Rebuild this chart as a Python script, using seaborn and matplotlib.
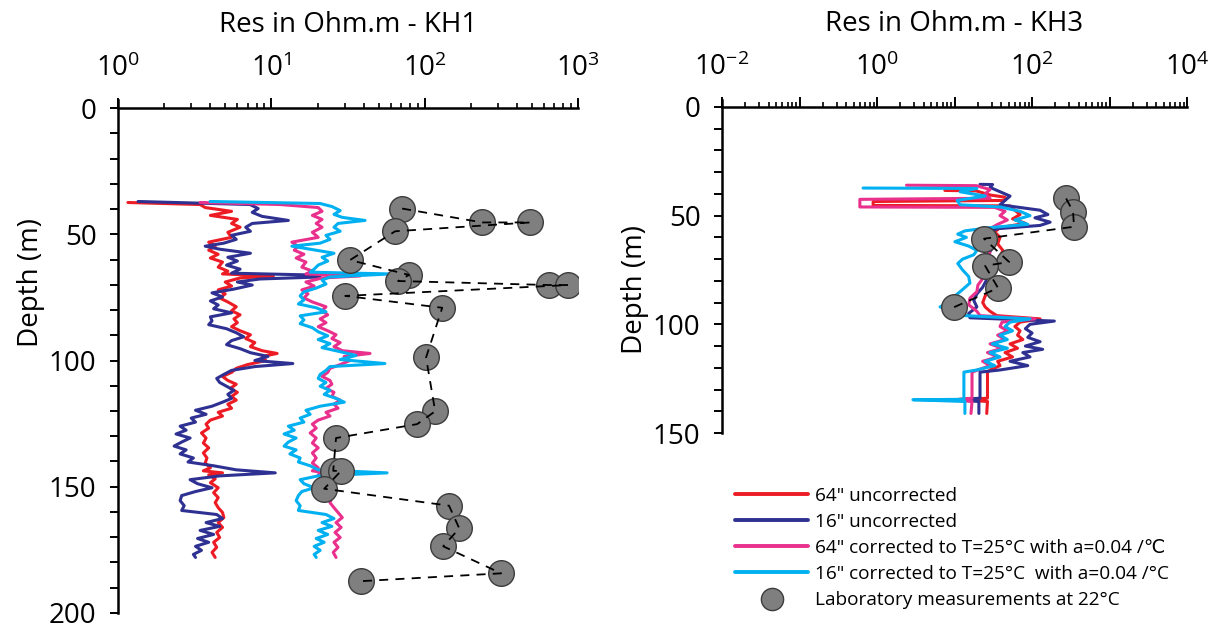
import numpy as np
import pandas as pd
import matplotlib
matplotlib.use("Agg")
import matplotlib.pyplot as plt
from matplotlib.lines import Line2D
from matplotlib.ticker import FixedLocator, FuncFormatter, LogLocator, NullFormatter, MultipleLocator
import seaborn as sns

sns.set_theme(style="ticks")
plt.rcParams['font.family'] = ['Open Sans', 'DejaVu Sans']
plt.rcParams['mathtext.fontset'] = 'custom'
plt.rcParams['mathtext.rm'] = 'Open Sans'
plt.rcParams['mathtext.it'] = 'Open Sans:italic'
plt.rcParams['mathtext.bf'] = 'Open Sans:bold'
plt.rcParams['axes.unicode_minus'] = False
plt.rcParams['text.color'] = 'black'
plt.rcParams['axes.labelcolor'] = 'black'
plt.rcParams['xtick.color'] = 'black'
plt.rcParams['ytick.color'] = 'black'

# ---------------- KH1 logs (depth m, resistivity Ohm.m) ----------------
kh1_red_depth = [37.4, 38.2, 39.4, 40.9, 42.5, 44.1, 45.7, 47.2, 49.2, 51.2, 53.1, 54.7, 56.3, 57.9, 59.4,
                 61.0, 63.0, 64.6, 65.7, 66.5, 67.3, 68.9, 70.5, 72.0, 73.6, 75.2, 76.8, 78.7, 80.3, 81.9,
                 83.5, 85.0, 86.6, 88.2, 89.8, 91.3, 92.9, 94.5, 96.1, 97.2, 98.4, 100.0, 101.6, 103.1, 104.7,
                 106.3, 107.9, 109.4, 111.0, 112.6, 114.2, 115.7, 117.3, 118.9, 120.5, 122.0, 123.6, 125.2,
                 126.8, 128.7, 130.7, 132.7, 134.6, 136.6, 138.6, 140.6, 142.5, 143.7, 144.5, 145.3, 146.9,
                 148.4, 150.4, 152.4, 154.3, 156.3, 158.3, 160.2, 162.2, 164.2, 166.1, 168.1, 170.1, 172.0,
                 174.0, 176.0, 178.0]
kh1_red_res = [1.16, 3.43, 3.7, 5.5, 4.0, 6.0, 5.5, 6.25, 5.2, 5.5, 3.9, 4.3, 3.9, 4.5, 4.0,
               4.8, 4.5, 5.2, 4.8, 10.3, 6.25, 5.0, 5.5, 4.5, 5.0, 4.6, 5.2, 5.9, 5.5, 6.25,
               5.7, 6.0, 5.5, 6.25, 7.3, 6.8, 7.8, 7.3, 8.7, 10.9, 8.7, 9.2, 7.0, 5.9, 5.5,
               4.8, 5.2, 5.9, 5.4, 6.0, 5.5, 5.9, 5.2, 5.5, 4.5, 4.8, 4.0, 3.75,
               3.9, 3.5, 3.75, 3.6, 3.9, 3.6, 3.8, 3.7, 4.0, 3.6, 4.8, 3.9, 4.3,
               4.0, 4.5, 4.2, 4.5, 4.3, 4.5, 4.8, 4.9, 4.5, 4.8, 4.4, 4.6, 4.2,
               4.4, 4.1, 4.3]

kh1_blue_depth = [37.0, 38.2, 39.8, 41.3, 42.9, 44.5, 45.7, 47.2, 48.8, 50.4, 52.0, 53.5, 54.7, 55.9, 57.5,
                  59.1, 60.6, 62.2, 63.8, 65.4, 66.1, 66.9, 67.7, 68.9, 70.1, 71.7, 73.2, 74.8, 76.4, 78.0,
                  79.5, 81.1, 82.7, 84.3, 85.8, 87.4, 89.0, 90.6, 92.1, 93.7, 95.3, 96.9, 98.4, 100.0, 101.2,
                  102.4, 103.9, 105.5, 107.1, 108.7, 110.2, 111.8, 113.4, 115.0, 116.5, 118.1, 119.7, 121.3,
                  122.8, 124.4, 126.0, 127.6, 129.1, 130.7, 132.3, 133.9, 135.4, 137.0, 138.6, 140.2, 141.7,
                  143.3, 144.5, 145.7, 147.2, 148.8, 150.4, 151.9, 153.5, 155.5, 157.5, 159.4, 161.0, 162.6,
                  164.2, 165.7, 167.3, 168.9, 170.5, 172.0, 173.6, 175.2, 176.8, 178.0]
kh1_blue_res = [1.35, 7.26, 8.2, 7.5, 8.7, 12.9, 7.5, 6.8, 7.3, 5.5, 5.9, 4.9, 3.7, 4.6, 7.3,
                5.2, 6.0, 5.1, 6.25, 5.5, 17.9, 20.8, 8.4, 6.0, 7.5, 5.7, 4.1, 4.8, 4.0, 4.5,
                4.2, 5.5, 4.0, 4.1, 3.9, 5.1, 5.9, 6.6, 5.5, 5.1, 6.25, 7.3, 9.5, 7.8, 13.8,
                7.8, 5.5, 4.9, 4.4, 4.6, 5.1, 5.7, 5.2, 5.5, 4.8, 4.1, 3.2, 3.75,
                3.0, 3.2, 2.54, 2.78, 2.39, 2.95, 2.6, 2.32, 2.78, 2.54, 3.1, 2.86, 4.2,
                5.9, 10.6, 4.6, 2.95, 3.3, 4.1, 3.2, 2.6, 2.54, 2.7, 2.6, 4.4, 4.8,
                3.75, 4.6, 3.43, 4.2, 3.3, 3.9, 3.2, 3.5, 3.1, 3.2]

kh1_pink_depth = kh1_red_depth
kh1_pink_res = [3.43, 11.4, 20.2, 21.4, 18.5, 21.4, 19.6, 21.4, 18.5, 20.2, 13.6, 14.9, 14.1, 16.3, 14.5,
                16.8, 15.8, 18.5, 16.8, 37.9, 21.4, 16.8, 19.0, 15.8, 17.3, 16.3, 18.5, 22.7, 21.4, 23.3,
                20.8, 22.7, 20.2, 23.3, 26.4, 24.8, 28.1, 25.6, 29.0, 44.0, 29.8, 32.6, 28.1, 24.1, 23.3,
                21.4, 24.1, 24.8, 22.7, 25.6, 24.8, 28.1, 25.6, 27.2, 22.7, 24.1, 20.2, 18.5,
                19.6, 17.9, 19.6, 18.5, 20.2, 18.5, 19.6, 18.5, 20.2, 18.5, 22.7, 20.2, 22.7,
                21.4, 24.1, 22.7, 24.8, 24.1, 25.6, 27.2, 29.0, 26.4, 28.5, 26.0, 28.1, 25.6,
                27.2, 25.3, 26.4]

kh1_cyan_depth = [37.0, 37.8, 39.0, 40.6, 42.1, 43.3, 44.5, 45.7, 47.2, 48.8, 50.4, 52.0, 53.5, 54.7, 55.9,
                  57.5, 59.1, 60.6, 62.2, 63.8, 65.0, 65.7, 66.9, 68.1, 69.7, 71.3, 72.8, 74.4, 76.0, 77.6,
                  79.1, 80.7, 82.3, 83.9, 85.4, 87.0, 88.6, 90.2, 91.7, 93.3, 94.9, 96.5, 98.0, 99.6, 101.2,
                  102.4, 103.9, 105.5, 107.1, 108.7, 110.2, 111.8, 113.4, 115.0, 116.5, 118.1, 119.7, 121.3,
                  122.8, 124.4, 126.0, 127.6, 129.1, 130.7, 132.3, 133.9, 135.4, 137.0, 138.6, 140.2, 141.7,
                  143.3, 144.5, 145.7, 147.2, 148.8, 150.4, 151.9, 153.5, 155.5, 157.5, 159.4, 161.0, 162.6,
                  164.2, 165.7, 167.3, 168.9, 170.5, 172.0, 173.6, 175.2, 176.8, 178.0]
kh1_cyan_res = [3.98, 20.8, 24.8, 28.1, 25.6, 29.0, 40.8, 27.2, 25.6, 28.1, 22.7, 24.1, 20.8, 13.6, 17.9,
                25.6, 21.4, 23.3, 20.2, 19.0, 17.9, 59.5, 24.1, 21.4, 22.7, 19.6, 16.3, 15.4, 16.3, 15.0,
                19.6, 22.7, 15.4, 16.3, 15.4, 18.5, 20.2, 23.3, 20.2, 24.1, 21.4, 28.1, 35.6, 28.1, 55.0,
                24.1, 22.7, 20.8, 20.2, 22.7, 20.8, 24.1, 22.1, 26.4, 29.9, 20.8, 16.8, 17.9,
                15.4, 16.3, 12.9, 14.1, 12.1, 14.5, 12.9, 12.1, 14.5, 13.2, 15.4, 15.0, 17.9,
                20.2, 56.8, 20.2, 15.4, 16.3, 19.0, 15.8, 15.0, 14.5, 15.4, 15.0, 22.7, 25.6,
                21.4, 24.8, 20.2, 23.3, 19.6, 22.1, 19.0, 20.8, 19.0, 19.6]

kh1_lab_depth = [39.8, 45.3, 45.3, 48.8, 60.2, 66.1, 68.5, 70.1, 70.1, 74.4, 79.1, 98.8, 120.1, 125.2,
                 130.7, 143.7, 143.7, 150.8, 157.5, 166.5, 173.6, 184.3, 187.4]
kh1_lab_res = [71.2, 237, 487, 64.1, 32.6, 79.1, 67.0, 648, 861, 30.3, 130, 102, 117, 89.2,
               26.4, 25.3, 28.5, 22.1, 144, 168, 132, 315, 38.5]

# ---------------- KH3 logs ----------------
kh3_red_depth = [38.4, 38.6, 40.5, 41.5, 43.0, 43.5, 45.3, 45.5, 47.5, 49.5, 51.5, 53.5, 55.5, 57.5, 60,
                 63, 66, 69, 72, 75, 78, 81, 84, 87, 90, 92, 94, 96, 97.5, 99, 101, 103, 105, 107, 109,
                 111, 113, 115, 117, 119, 121, 122, 134, 134.7, 135.5, 141]
kh3_red_res = [7.5, 19, 28.7, 44.8, 44.8, 0.89, 0.89, 52, 60, 70, 56, 82, 38.6, 33, 38.6,
               36, 42, 38.6, 33, 30.7, 32, 30.7, 28.7, 24.8, 23.1, 24.8, 28.7, 35, 127, 70, 60, 70, 65, 76, 52,
               65, 44.8, 56, 36, 38.6, 28.7, 26.6, 26.6, 11.8, 26.6, 26.0]

kh3_blue_depth = [35.6, 35.7, 37, 39, 41, 43, 45, 47.5, 49.5, 51, 53, 54.5, 56, 58, 60, 62, 65, 68, 71, 74,
                  77, 80, 83, 86, 89, 92, 95, 97, 98.5, 100, 102, 104, 106, 108, 110, 111.5, 113, 115, 117,
                  119, 121, 122, 134, 134.7, 135.5, 141]
kh3_blue_res = [21.3, 31, 28.7, 38.6, 52, 44.8, 38.6, 127, 160, 109, 171, 127, 36, 24.8, 28.7, 21.3, 30.7,
                26.6, 30.7, 28.7, 26.6, 25.5, 23, 19.4, 17.7, 19.4, 15.2, 15.8, 194, 94, 82, 100, 88, 127, 82,
                137, 76, 94, 52, 88, 38.6, 21.3, 21.3, 10, 20.6, 20.6]

kh3_pink_depth = [36, 36.2, 38, 40, 42, 42.5, 46, 46.2, 48, 50, 52, 54, 56, 58, 61, 64, 67, 70, 73, 76, 79,
                  82, 85, 88, 91, 94, 96, 97.5, 99, 101, 103, 105, 107, 109, 111, 113, 115, 117, 119, 121,
                  122, 134, 134.7, 135.5, 141]
kh3_pink_res = [2.4, 19, 28.7, 24.8, 28.7, 0.6, 0.6, 33, 44.8, 38.6, 48, 36, 28.7, 24.8, 26.6, 24, 28.7,
                24.8, 23, 24.8, 23, 20, 19.4, 15.8, 15.2, 19.4, 21.3, 109, 41, 38.6, 48, 36, 44.8, 28.7, 41,
                26.6, 36, 23, 28.7, 20, 16.8, 16.8, 10, 16.8, 16.3]

kh3_cyan_depth = [37.3, 37.5, 39, 41, 43, 45, 46, 48, 50, 52, 54, 55.5, 57, 58.5, 60, 62, 64, 66, 68, 70,
                  72, 75, 78, 81, 84, 87, 90, 92, 94, 96, 97.5, 99, 101, 103, 105, 107, 109, 111, 113, 115,
                  117, 119, 121, 122, 134.5, 134.7, 135.5, 141]
kh3_cyan_res = [0.66, 19.4, 11.8, 24.8, 10.8, 11.8, 38.6, 70, 94, 60, 88, 28.7, 13.6, 11, 14.2, 10.1, 15.2,
                19.4, 17.7, 12.7, 11, 12.7, 15.2, 15.8, 12.7, 10.1, 8.2, 6.5, 10.1, 13.6, 94, 52, 44.8, 56,
                38.6, 48, 30.7, 48, 28.7, 38.6, 24.8, 33, 19.4, 13.2, 13.2, 2.9, 13.6, 13.6]

kh3_lab_depth = [42.1, 48.1, 55.1, 60.6, 71.3, 73.1, 83.3, 92.1]
kh3_lab_res = [275, 338, 348, 24.0, 50.5, 24.8, 36.4, 9.86]

labels = ['64" uncorrected', '16" uncorrected',
          '64" corrected to T=25°C with a=0.04 /℃',
          '16" corrected to T=25°C  with a=0.04 /°C',
          'Laboratory measurements at 22°C']
colors = ['#ed1c24', '#2e3192', '#e9308d', '#00b0f0']
dot_face = '#7f7f7f'
dot_edge = '#3c3c3c'

fig = plt.figure(figsize=(12.17, 6.29), dpi=100)
ax1 = fig.add_axes([0.0970, 0.0255, 0.378, 0.8155])
ax2 = fig.add_axes([0.5933, 0.3116, 0.3821, 0.5294])


def draw_panel(ax, logs, lab_res, lab_depth):
    for (res, depth), c in zip(logs, colors):
        sns.lineplot(x=res, y=depth, ax=ax, color=c, lw=2.2, sort=False, estimator=None,
                     orient='y', zorder=2)
    sns.scatterplot(x=lab_res, y=lab_depth, ax=ax, s=340, color=dot_face, edgecolor=dot_edge,
                    linewidth=1.0, zorder=4)
    sns.lineplot(x=lab_res, y=lab_depth, ax=ax, color='black', lw=1.3, linestyle=(0, (5, 4)),
                 sort=False, estimator=None, orient='y', zorder=5)


draw_panel(ax1, [(kh1_red_res, kh1_red_depth), (kh1_blue_res, kh1_blue_depth),
                 (kh1_pink_res, kh1_pink_depth), (kh1_cyan_res, kh1_cyan_depth)],
           kh1_lab_res, kh1_lab_depth)
draw_panel(ax2, [(kh3_red_res, kh3_red_depth), (kh3_blue_res, kh3_blue_depth),
                 (kh3_pink_res, kh3_pink_depth), (kh3_cyan_res, kh3_cyan_depth)],
           kh3_lab_res, kh3_lab_depth)


def style_axis(ax, xlim, ymax, decades, label_every, title, label_y):
    ax.set_xscale('log')
    ax.set_xlim(*xlim)
    ax.set_ylim(ymax, -3.2)
    ax.xaxis.tick_top()
    ax.xaxis.set_label_position('top')
    for s in ['bottom', 'right']:
        ax.spines[s].set_visible(False)
    for s in ['top', 'left']:
        ax.spines[s].set_linewidth(1.8)
        ax.spines[s].set_color('black')
    ax.spines['top'].set_position(('data', 0))
    ax.xaxis.set_major_locator(FixedLocator([10.0 ** e for e in decades]))
    ax.xaxis.set_major_formatter(FuncFormatter(
        lambda v, p: r'$\mathdefault{10^{%d}}$' % round(np.log10(v))
        if round(np.log10(v)) % label_every == 0 else ''))
    ax.xaxis.set_minor_locator(LogLocator(base=10, subs=np.arange(2, 10), numticks=30))
    ax.xaxis.set_minor_formatter(NullFormatter())
    ax.yaxis.set_major_locator(MultipleLocator(50))
    ax.yaxis.set_minor_locator(MultipleLocator(10))
    ax.tick_params(axis='x', which='major', direction='out', length=7, width=1.4,
                   labelsize=20, pad=11)
    ax.tick_params(axis='x', which='minor', direction='out', length=3.5, width=1.2)
    ax.tick_params(axis='y', which='both', direction='out', length=5.5, width=1.4,
                   labelsize=20, pad=10)
    ax.set_xlabel(title, fontsize=20, labelpad=16)
    ax.set_ylabel('Depth (m)', fontsize=20, labelpad=3)
    ax.yaxis.label.set_y(label_y)
    ax.grid(False)


style_axis(ax1, (1, 1000), 200, range(0, 4), 1, 'Res in Ohm.m - KH1', 0.645)
style_axis(ax2, (0.01, 1e4), 150, range(-2, 5), 2, 'Res in Ohm.m - KH3', 0.43)

handles = [Line2D([], [], color=c, lw=2.8) for c in colors]
handles.append(Line2D([], [], ls='none', marker='o', markersize=16, markerfacecolor=dot_face,
                      markeredgecolor=dot_edge, markeredgewidth=1.0))
fig.legend(handles, labels, loc='upper left', bbox_to_anchor=(0.604, 0.2265), frameon=False,
           fontsize=13.7, handlelength=3.85, handletextpad=0.37, labelspacing=0.43,
           borderpad=0, borderaxespad=0)

fig.savefig('out.png', dpi=100)
